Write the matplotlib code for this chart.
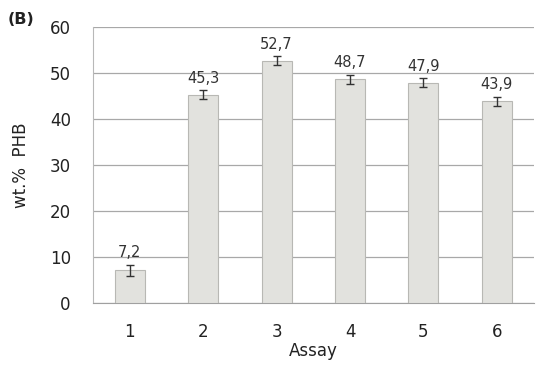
import numpy as np
import matplotlib.pyplot as plt

# data
assays = ["1", "2", "3", "4", "5", "6"]
phb = [7.2, 45.3, 52.7, 48.7, 47.9, 43.9]
err = [1.2, 1.0, 1.0, 1.0, 1.0, 1.0]
labels = ["7,2", "45,3", "52,7", "48,7", "47,9", "43,9"]

fig = plt.figure(figsize=(5.36, 3.67), dpi=100)
ax = fig.add_axes([0.1735, 0.174, 0.822, 0.752])

x = np.arange(len(assays))
ax.bar(x, phb, width=0.41, color="#e2e2de", edgecolor="#b8b8b4", linewidth=0.8, zorder=3)
ax.errorbar(x, phb, yerr=err, fmt="none", ecolor="#333333", elinewidth=1, capsize=3, capthick=1, zorder=4)
for xi, v, e, lab in zip(x, phb, err, labels):
    ax.text(xi, v + e + 1.0, lab, ha="center", va="bottom", fontsize=10.5, color="#333333")

ax.set_xlim(-0.5, 5.5)
ax.set_ylim(0, 60)
ax.set_yticks(range(0, 61, 10))
ax.set_xticks(x)
ax.set_xticklabels(assays)
ax.grid(axis="y", color="#a8a8a8", linewidth=0.9, zorder=0)
for s in ["top", "right"]:
    ax.spines[s].set_visible(False)
ax.spines["left"].set_color("#b8b8b8")
ax.spines["bottom"].set_color("#a0a0a0")
ax.tick_params(axis="y", length=0, labelsize=12, colors="#222222", pad=16)
ax.tick_params(axis="x", length=0, labelsize=12, colors="#222222", pad=14)
ax.set_xlabel("Assay", fontsize=12, color="#222222", labelpad=1)
ax.set_ylabel("wt.%  PHB", fontsize=12, color="#222222", labelpad=14)
fig.text(0.015, 0.935, "(B)", fontsize=11.5, fontweight="bold", color="#222222")

fig.savefig("out.png")
